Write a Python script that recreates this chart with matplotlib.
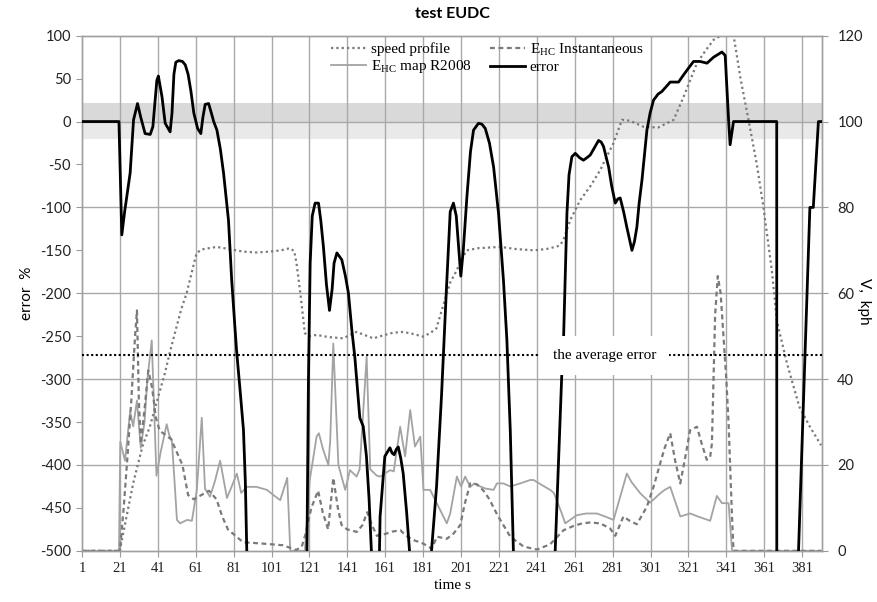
import numpy as np
import matplotlib
matplotlib.use('Agg')
import matplotlib.pyplot as plt
from matplotlib.patches import Rectangle
from matplotlib.transforms import blended_transform_factory

# ---------------- data ----------------
x_ticks = list(range(1, 382, 20))
left_ticks = list(range(-500, 101, 50))
right_ticks = list(range(0, 121, 20))
average_error = -272

# speed profile, kph (right axis): (time s, speed)
speed_profile = [
    (1, 0), (20, 0), (21, 0.2), (24.5, 8), (28, 15.7), (30.7, 20.5), (33, 24.5), (36.8, 28.9),
    (40, 34), (44.7, 41.3), (47.5, 46.5), (50.9, 52.2), (53.5, 56.5), (56.2, 60), (59, 65),
    (61.4, 69.3), (64, 70.2), (72, 70.8), (80, 70.2), (86, 69.7), (93, 69.5), (100, 69.7),
    (106, 70), (110.7, 70.5), (113, 69.8), (114.2, 67), (116.5, 59), (118.6, 50.7), (121, 50),
    (124.8, 50.3), (131, 49.8), (138.8, 49.5), (142, 50.2), (145.9, 51), (150, 50.3),
    (154.7, 49.5), (160, 50.2), (165, 50.8), (170.5, 51), (176, 50.5), (181, 49.9), (185, 50.8),
    (188, 51.8), (191.5, 57), (195.3, 62.5), (198.8, 65.4), (201.5, 68), (204, 70), (210, 70.5),
    (221.7, 70.8), (230, 70.3), (239.3, 70), (246, 70.3), (251.6, 70.9), (253.3, 71.2),
    (255.1, 72.5), (258.6, 77), (263.9, 81.7), (269.2, 84.9), (274.5, 88.7), (276.2, 90.3),
    (281.5, 95), (285.9, 100.4), (290, 100.2), (297.3, 98.8), (305, 98.6), (313.2, 100.4),
    (318.5, 105.8), (325.5, 113.6), (330, 116.5), (334.2, 119), (338, 120), (344.8, 120.2),
    (348.5, 110), (352.7, 100.4), (357, 90.3), (360.6, 80), (365, 65.4), (367.7, 53.5),
    (373, 43.7), (379.5, 33.6), (385, 29), (391, 24.6),
]

# E_HC Instantaneous (right axis)
ehc_instantaneous = [
    (1, 0), (20, 0), (21, 0), (23, 10), (25, 22), (27, 35), (29, 50), (30, 56), (31, 35),
    (32, 25), (34, 33), (36, 42), (38, 38), (40, 31), (42, 28), (45, 27), (48, 26), (51, 23),
    (54, 20), (57, 13), (60, 12), (64, 13), (68, 14), (72, 12), (75, 8), (78, 5), (82, 3.5),
    (86, 2), (96, 1.7), (107, 1.3), (114, 0.2), (117, 1), (119, 4), (122, 10), (125.6, 14),
    (128, 9), (130.9, 5), (133.6, 17), (136, 10), (138, 6), (140.9, 5), (146, 4.4), (149, 6),
    (151.5, 9), (154, 6), (156.6, 3.5), (160, 3.8), (165, 4.5), (169, 4.8), (172, 3.5),
    (176, 2.5), (181, 1.7), (185.6, 0.5), (188.3, 3.3), (193.5, 2.8), (197, 4), (200.6, 6),
    (203, 11), (205.9, 15.7), (209.4, 15.5), (212.9, 14), (216, 12), (220, 8.5), (227, 3.3),
    (234, 1), (241, 0.3), (248, 1.5), (255.1, 4.8), (260.4, 5.8), (265, 6.4), (269.2, 6.6),
    (274.5, 6.4), (279.7, 5.2), (282.4, 3.5), (286.7, 8), (290, 7), (293.8, 6.2), (299.1, 10.3),
    (303, 15.5), (306.1, 20.4), (308.5, 24), (311.4, 27.4), (314, 21), (316.7, 15.7), (319, 21),
    (321.9, 28.1), (325.5, 28.9), (328, 25), (330.7, 21.2), (332.5, 21.9), (333.4, 25),
    (335.1, 55), (336.5, 64), (338, 60), (339.5, 50), (341, 40), (342.2, 29.7), (344, 8),
    (344.8, 0), (391, 0),
]

# E_HC map R2008 (right axis)
ehc_map_r2008 = [
    (1, 0), (20, 0), (20.5, 0), (21.2, 25.4), (23.7, 21), (26.4, 32.5), (28, 29), (30, 35),
    (32, 24), (34, 30), (35.5, 40), (37.8, 49), (40.3, 17.5), (42.5, 23), (45.7, 29.5), (47, 27),
    (48.4, 25.8), (50, 15), (51.1, 7.2), (52.8, 6.4), (56.4, 7.2), (59, 7), (61.6, 14.2),
    (64.2, 31), (65.9, 14.5), (68.5, 12.6), (71, 16), (73.9, 21), (77.5, 12.3), (80, 15),
    (82.7, 18), (85, 13.5), (88, 14.9), (93, 14.9), (98.6, 14.2), (102, 13), (105.6, 11.8),
    (109.3, 17), (110.9, 0), (118.6, 0), (121.2, 16.5), (124.8, 26.6), (126, 27.4),
    (128.3, 23.5), (131, 20), (132, 25.8), (133.6, 48.3), (136.3, 20), (139.9, 14.2),
    (142.4, 18.8), (145.9, 17.3), (147.5, 19), (151.2, 45.2), (153.1, 19), (156.6, 17.5),
    (158.4, 17.3), (163.6, 18.8), (165.5, 18.5), (168.9, 28.9), (171.5, 22), (174.2, 32.8),
    (176.7, 24.3), (179.5, 26.6), (181.2, 14.2), (184.7, 14.2), (190, 9.5), (193.5, 6.4),
    (195.3, 8.7), (198.8, 17.3), (201, 15), (203.2, 17.3), (205.9, 14.9), (208, 15.7),
    (211.1, 15), (214, 14.5), (218.2, 14.2), (219.9, 15.7), (223.4, 15.7), (227, 15),
    (232.2, 15.7), (237.5, 16.5), (239.3, 16.5), (243, 15.5), (248, 14.2), (250, 13.5),
    (254.2, 8.7), (256, 6.4), (262.1, 8.3), (267, 8.7), (272.7, 8.7), (277, 8), (281.5, 7.2),
    (288.5, 18), (291, 16), (295.6, 13.4), (300.8, 11.2), (306.1, 13.4), (308.5, 14.2),
    (311.4, 14.9), (316.7, 8), (321.9, 8.7), (326, 8), (332.5, 7), (336, 12.8), (338.7, 11.1),
    (342.2, 11.1), (344, 0.2), (344.8, 0), (391, 0),
]

# error, % (left axis); values below -500 run off the chart
error = [
    (1, 0), (20.5, 0), (22, -132), (23.5, -105), (26.4, -60), (28.2, 2), (30.3, 21), (32, 5),
    (34.3, -14), (37, -15), (38.4, -6), (40.5, 48), (41.3, 53), (43.2, 29), (44.9, -2),
    (47.5, -12), (48.5, 10), (49.5, 55), (50.5, 69), (52, 71), (54, 70), (55.5, 66), (57, 55),
    (58.5, 35), (60, 10), (62, -8), (63.7, -14), (64.8, 5), (66, 20), (67.8, 21), (69, 12),
    (70.5, 0), (72.2, -10), (74, -32), (75.7, -60), (78.3, -115), (80, -185), (82.5, -265),
    (84.5, -315), (86.2, -359), (87.2, -420), (88, -505), (89, -650), (90, -1000),
    (117, -1000), (118.5, -800), (119.7, -500), (120.5, -300), (121.4, -165), (122.5, -110),
    (124, -95), (125.8, -95), (127, -115), (128.4, -146), (130, -190), (131.6, -220),
    (133, -195), (134, -165), (135.5, -153), (138.1, -161), (140, -180), (141.6, -200),
    (143.4, -243), (145, -275), (147.6, -345), (149.4, -355), (151.1, -390), (152.5, -440),
    (153.8, -505), (154.5, -700), (155, -1000), (156.8, -1000), (157.5, -560), (158.3, -460),
    (160.8, -390), (163.5, -380), (164.6, -386), (165.7, -388), (166.8, -382), (167.9, -379),
    (169.2, -392), (170.5, -410), (172.3, -455), (174, -505), (175, -800), (175.5, -1000),
    (184.5, -1000), (185.4, -501), (188.1, -425), (190.7, -320), (193.2, -200), (195.3, -105),
    (197, -95), (198.5, -110), (200.9, -180), (202.2, -150), (204.1, -88), (206, -35),
    (207.6, -10), (210.2, -2), (212, -3), (213.8, -8), (216, -25), (218.2, -53), (220.8, -107),
    (223.4, -185), (225.2, -254), (227, -360), (228.7, -505), (229.5, -800), (230, -1000),
    (249.5, -1000), (250.7, -500), (254.2, -293), (255.1, -254), (256.9, -107), (258, -62),
    (259.5, -41), (261.3, -37), (263.5, -42), (265.6, -45), (267.5, -42), (269.2, -39),
    (271.5, -30), (273.6, -22), (275, -24), (276.2, -29), (278.9, -53), (280.5, -75),
    (282.4, -95), (283.8, -90), (285, -89), (286.8, -105), (288.5, -123), (291.2, -150),
    (292.5, -140), (293.8, -123), (295, -95), (296.5, -68), (299.1, -10), (300.8, 10),
    (302.6, 25), (305, 32), (307, 35), (309, 40), (311.4, 46), (315.8, 46), (318, 53),
    (320.3, 60), (323.7, 70), (327.2, 70), (330.8, 68), (334.3, 75), (336.5, 78), (338.7, 81),
    (340.4, 77), (341.3, 40), (342.2, 2), (343, -27), (344.8, 0), (367.6, 0), (367.8, -3000),
    (378.4, -547), (379.1, -500), (385.1, -100), (386.9, -100), (389.6, 0), (391, 0),
]

# ---------------- styling ----------------
SANS = ['Lato', 'DejaVu Sans']
SERIF = ['Liberation Serif', 'DejaVu Serif']
plt.rcParams['font.family'] = SANS
GRID = '#a9a9a9'

fig = plt.figure(figsize=(8.77, 6.02), dpi=100)
fig.patch.set_facecolor('white')
ax = fig.add_axes([0.0935, 0.085, 0.8438, 0.8557])
ax2 = ax.twinx()
ax.set_zorder(ax2.get_zorder() + 1)
ax.patch.set_visible(False)

ax.set_xlim(1, 391.5)
ax.set_ylim(-500, 100)
ax2.set_ylim(0, 120)

# grey band around zero error
band_tr = blended_transform_factory(ax2.transAxes, ax.transData)
ax2.add_patch(Rectangle((0, 0), 1, 22, transform=band_tr, color='#d9d9d9', lw=0, zorder=0))
ax2.add_patch(Rectangle((0, -20), 1, 20, transform=band_tr, color='#e9e9e9', lw=0, zorder=0))

# grid
for t in x_ticks[1:]:
    ax2.axvline(t, color=GRID, lw=1.0, zorder=1)
for v in right_ticks[1:-1]:
    ax2.axhline(v, color=GRID, lw=1.0, zorder=1)

def xy(pairs):
    a = np.array(pairs, dtype=float)
    return a[:, 0], a[:, 1]

t, v = xy(ehc_map_r2008)
l_map, = ax2.plot(t, v, color='#a3a3a3', lw=1.3, zorder=3)
t, v = xy(ehc_instantaneous)
l_inst, = ax2.plot(t, v, color='#7a7a7a', lw=1.6, dashes=(2.2, 1.6), zorder=4)
t, v = xy(speed_profile)
l_speed, = ax2.plot(t, v, color='#7a7a7a', lw=1.6, dashes=(1.0, 1.4), zorder=4)

t, v = xy(error)
l_err, = ax.plot(t, v, color='black', lw=2.0, zorder=5, solid_joinstyle='round')
ax.axhline(average_error, color='black', lw=1.5, ls=(0, (1, 1.2)), zorder=4)
ax.text(276.6, average_error - 1, 'the average error', family=SERIF, fontsize=11,
        ha='center', va='center', zorder=10,
        bbox=dict(boxstyle='square,pad=0.85', fc='white', ec='none'))

# axes, ticks, labels
ax.set_xticks(x_ticks)
ax.set_xticklabels([str(x) for x in x_ticks], family=SERIF, fontsize=10.5)
ax.set_yticks(left_ticks)
ax.set_yticklabels([str(y) for y in left_ticks], fontsize=10.5)
ax2.set_yticks(right_ticks)
ax2.set_yticklabels([str(y) for y in right_ticks], fontsize=10.5)
for a in (ax, ax2):
    a.tick_params(axis='both', length=4, width=0.8, color='#9a9a9a', labelcolor='#222222', pad=4)
    for s in a.spines.values():
        s.set_color('#a0a0a0')
        s.set_linewidth(1.0)
ax2.tick_params(axis='y', pad=7)

ax.set_xlabel('time s', family=SERIF, fontsize=11, labelpad=3)
ax.set_ylabel('error  %', fontsize=11, labelpad=4)
fig.text(864 / 877, 0.5, 'V,  kph', fontsize=11, rotation=-90, ha='center', va='center')
fig.text(0.516, 0.977, 'test EUDC', fontsize=11.5, fontweight='bold', ha='center', va='center')

handles = [l_speed, l_map, l_inst, l_err]
labels = ['speed profile', r'E$_{\mathregular{HC}}$ map R2008',
          r'E$_{\mathregular{HC}}$ Instantaneous', 'error']
leg = ax.legend(handles, labels, ncol=2, frameon=False, loc='upper left',
                bbox_to_anchor=(322 / 877, 1 - 32 / 602), bbox_transform=fig.transFigure,
                prop=dict(family=SERIF, size=11), handlelength=2.3, handletextpad=0.3,
                columnspacing=1.2, labelspacing=0.15, borderpad=0.1)
leg.set_zorder(11)

fig.savefig('out.png', dpi=100, facecolor='white')
